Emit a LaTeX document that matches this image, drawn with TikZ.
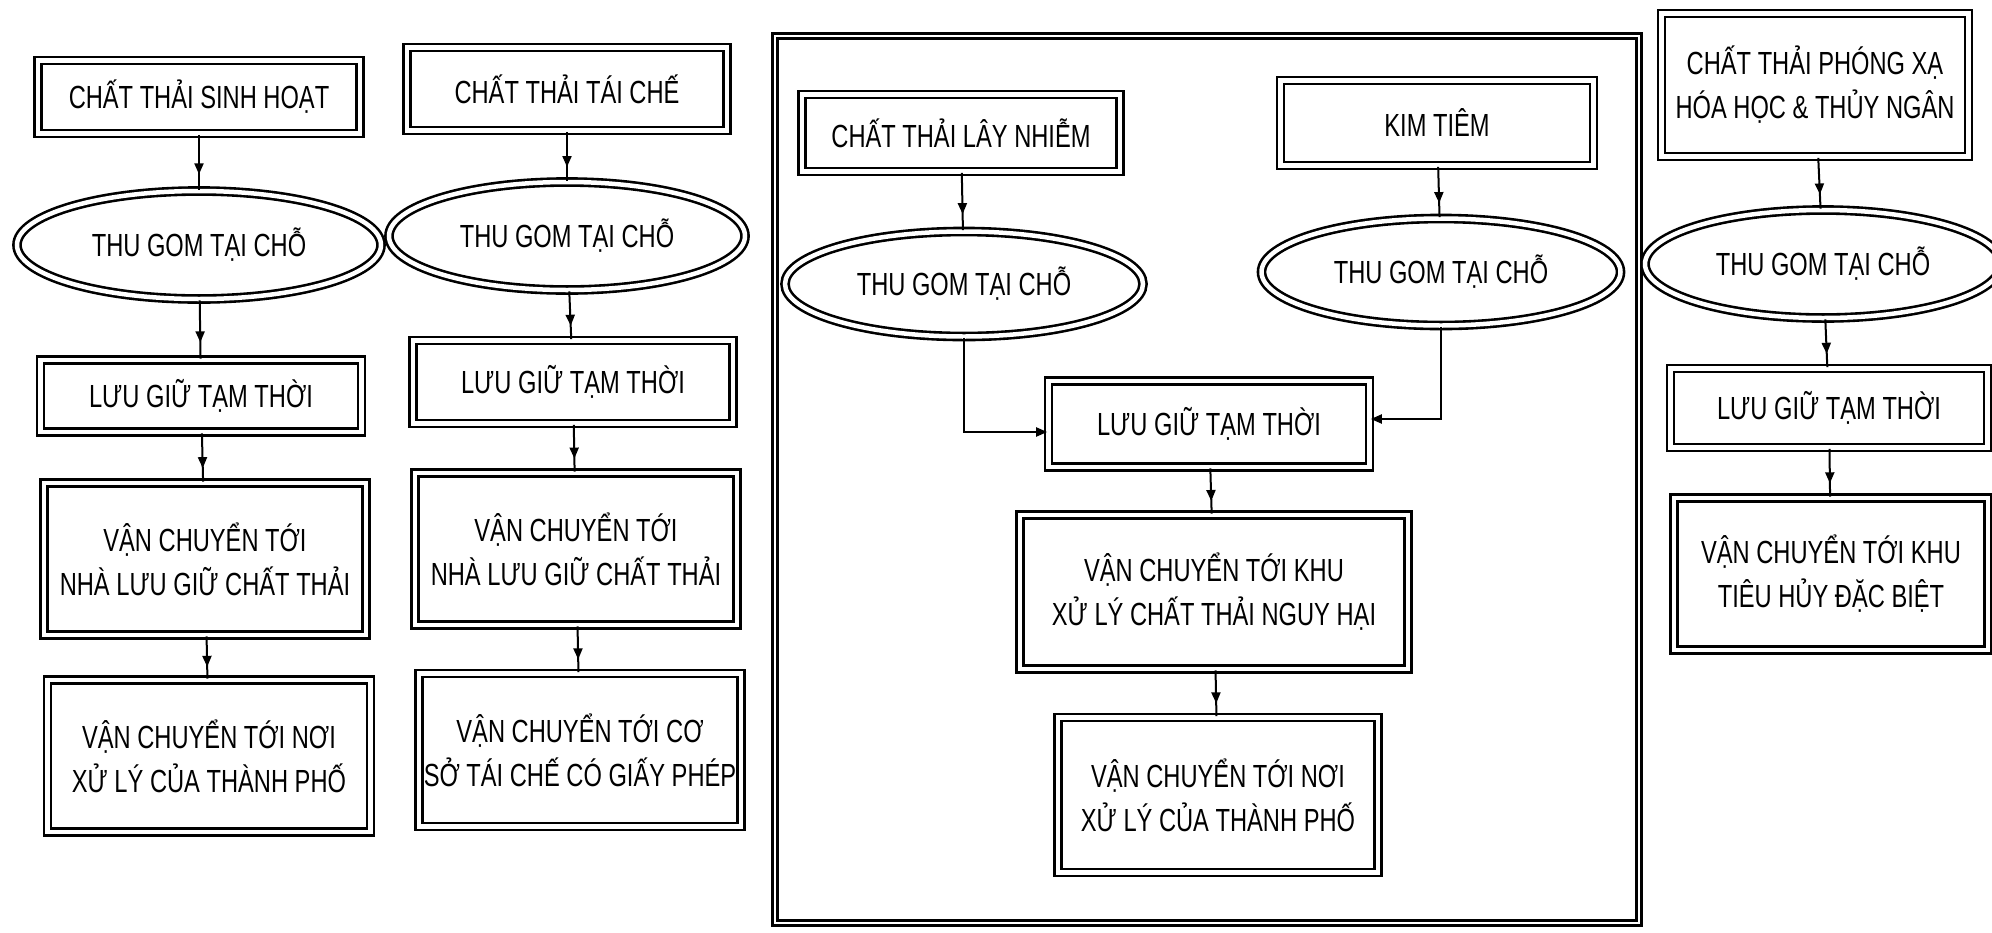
\documentclass[tikz,border=0pt]{standalone}
\usepackage{fontspec}
\newfontfamily\cond[FakeStretch=0.74]{Liberation Sans}
\usetikzlibrary{shapes.geometric,arrows.meta,decorations.markings}
\begin{document}
\begin{tikzpicture}[x=1pt,y=-1pt,
  every node/.style={font=\cond\fontsize{32}{44}\selectfont, align=center, inner sep=2pt},
  bx/.style={draw, double, line width=2.6pt, double distance=4.5pt, rectangle},
  el/.style={draw, double, line width=2.6pt, double distance=4.5pt, ellipse, inner sep=0pt},
  frm/.style={draw, double, line width=2.6pt, double distance=2.5pt, rectangle},
  flow/.style={line width=2pt, postaction={decorate},
    decoration={markings, mark=at position 0.72 with {\arrow{Triangle[length=11pt,width=9pt]}}}},
  elbow/.style={line width=2pt, -{Triangle[length=11pt,width=9pt]}}]
\useasboundingbox[fill=white] (0,0) rectangle (1992,932);

% column 1
\node[bx, minimum width=322, minimum height=73] (A1) at (199,97) {CHẤT THẢI SINH HOẠT};
\node[el, minimum width=364, minimum height=108] (A2) at (199,245) {THU GOM TẠI CHỖ};
\node[bx, minimum width=321, minimum height=72] (A3) at (201,396) {LƯU GIỮ TẠM THỜI};
\node[bx, minimum width=322, minimum height=152] (A4) at (205,559) {VẬN CHUYỂN TỚI\\NHÀ LƯU GIỮ CHẤT THẢI};
\node[bx, minimum width=323, minimum height=152] (A5) at (209,756) {VẬN CHUYỂN TỚI NƠI\\XỬ LÝ CỦA THÀNH PHỐ};
\draw[flow] (A1) -- (A2);
\draw[flow] (A2) -- (A3);
\draw[flow] (A3) -- (A4);
\draw[flow] (A4) -- (A5);

% column 2
\node[bx, minimum width=320, minimum height=83] (B1) at (567,89) {CHẤT THẢI TÁI CHẾ};
\node[el, minimum width=356, minimum height=108] (B2) at (567,236) {THU GOM TẠI CHỖ};
\node[bx, minimum width=320, minimum height=83] (B3) at (573,382) {LƯU GIỮ TẠM THỜI};
\node[bx, minimum width=322, minimum height=152] (B4) at (576,549) {VẬN CHUYỂN TỚI\\NHÀ LƯU GIỮ CHẤT THẢI};
\node[bx, minimum width=322, minimum height=153] (B5) at (580,750) {VẬN CHUYỂN TỚI CƠ\\SỞ TÁI CHẾ CÓ GIẤY PHÉP};
\draw[flow] (B1) -- (B2);
\draw[flow] (B2) -- (B3);
\draw[flow] (B3) -- (B4);
\draw[flow] (B4) -- (B5);

% framed group
\node[frm, minimum width=864, minimum height=887] (frame) at (1207,479.5) {};
\node[bx, minimum width=318, minimum height=77] (C1) at (961,133) {CHẤT THẢI LÂY NHIỄM};
\node[bx, minimum width=313, minimum height=85] (D1) at (1437,123) {KIM TIÊM};
\node[el, minimum width=358, minimum height=105] (C2) at (964,284) {THU GOM TẠI CHỖ};
\node[el, minimum width=359, minimum height=107] (D2) at (1441,272) {THU GOM TẠI CHỖ};
\node[bx, minimum width=321, minimum height=86] (E) at (1209,424) {LƯU GIỮ TẠM THỜI};
\node[bx, minimum width=388, minimum height=154] (F) at (1214,592) {VẬN CHUYỂN TỚI KHU\\XỬ LÝ CHẤT THẢI NGUY HẠI};
\node[bx, minimum width=320, minimum height=155] (G) at (1218,795) {VẬN CHUYỂN TỚI NƠI\\XỬ LÝ CỦA THÀNH PHỐ};
\draw[flow] (C1) -- (C2);
\draw[flow] (D1) -- (D2);
\draw[elbow] (C2.south) |- ([yshift=-8pt]E.west);
\draw[elbow] (D2.south) |- ([yshift=5pt]E.east);
\draw[flow] (E) -- (F);
\draw[flow] (F) -- (G);

% column 4
\node[bx, minimum width=307, minimum height=143] (H1) at (1815,85) {CHẤT THẢI PHÓNG XẠ\\HÓA HỌC \& THỦY NGÂN};
\node[el, minimum width=356, minimum height=108] (H2) at (1823,264) {THU GOM TẠI CHỖ};
\node[bx, minimum width=317, minimum height=79] (H3) at (1829,408) {LƯU GIỮ TẠM THỜI};
\node[bx, minimum width=314, minimum height=152] (H4) at (1831,574) {VẬN CHUYỂN TỚI KHU\\TIÊU HỦY ĐẶC BIỆT};
\draw[flow] (H1) -- (H2);
\draw[flow] (H2) -- (H3);
\draw[flow] (H3) -- (H4);
\end{tikzpicture}
\end{document}
